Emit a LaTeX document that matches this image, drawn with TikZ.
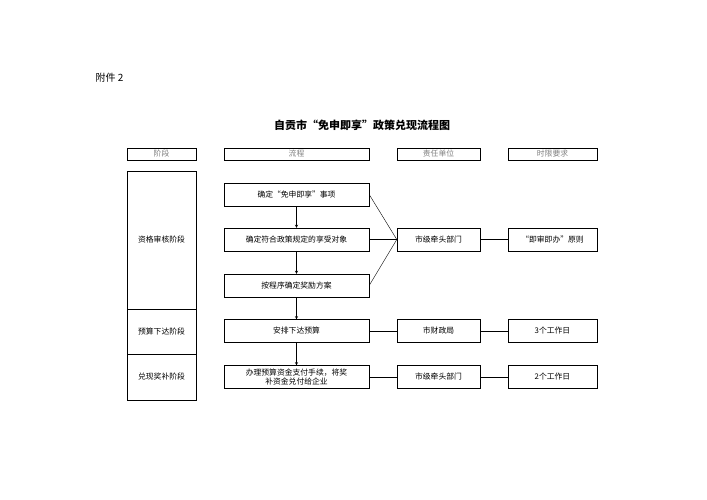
\documentclass[tikz,border=0pt]{standalone}
\usepackage{fontspec}
\setmainfont{Noto Sans CJK SC}
\usetikzlibrary{positioning}
\begin{document}
\begin{tikzpicture}[x=1pt,y=-1pt,font=\fontsize{7.8}{8.5}\selectfont,>=stealth]
    \tikzstyle{cell}=[shape=rectangle,draw,thin,inner sep=1pt,align=center]
    \tikzstyle{head}=[cell,minimum height=12pt,text=gray]
    \tikzstyle{flow}=[cell,minimum width=145pt,minimum height=23pt]
    \tikzstyle{unit}=[cell,minimum width=83pt,minimum height=23pt]
    \tikzstyle{limit}=[cell,minimum width=89pt,minimum height=23pt]
    \tikzstyle{stage}=[cell,minimum width=69pt]
    \useasboundingbox (0,0) rectangle (707,500);

    \node[anchor=west,font=\fontsize{10}{11}\selectfont] (att) at (92,78) {附件 2};
    \node[font=\bfseries\fontsize{11}{13}\selectfont] (title) at (362,125) {自贡市“免申即享”政策兑现流程图};

    \node[head,minimum width=69pt] (h1) at (161.5,154) {阶段};
    \node[head,minimum width=145pt] (h2) at (296.5,154) {流程};
    \node[head,minimum width=83pt] (h3) at (438.5,154) {责任单位};
    \node[head,minimum width=89pt] (h4) at (552.5,154) {时限要求};

    \node[stage,minimum height=138pt] (S1) at (161.5,240) {资格审核阶段};
    \node[stage,minimum height=45pt] (S2) at (161.5,331.5) {预算下达阶段};
    \node[stage,minimum height=46pt] (S3) at (161.5,377) {兑现奖补阶段};

    \node[flow] (F1) at (296.5,194.5) {确定“免申即享”事项};
    \node[flow] (F2) at (296.5,239.5) {确定符合政策规定的享受对象};
    \node[flow] (F3) at (296.5,285.5) {按程序确定奖励方案};
    \node[flow] (F4) at (296.5,331) {安排下达预算};
    \node[flow] (F5) at (296.5,377) {办理预算资金支付手续，将奖\\补资金兑付给企业};

    \node[unit] (U1) at (438.5,239.5) {市级牵头部门};
    \node[unit] (U2) at (438.5,331) {市财政局};
    \node[unit] (U3) at (438.5,377) {市级牵头部门};

    \node[limit] (T1) at (552.5,239.5) {“即审即办”原则};
    \node[limit] (T2) at (552.5,331) {3个工作日};
    \node[limit] (T3) at (552.5,377) {2个工作日};

    \path[->, draw, thin]
    (F1) edge (F2)
    (F2) edge (F3)
    (F3) edge (F4)
    (F4) edge (F5)
    ;

    \draw (F1.east) -- (U1.west);
    \draw (F2.east) -- (U1.west);
    \draw (F3.east) -- (U1.west);
    \draw (F4) -- (U2);
    \draw (F5) -- (U3);
    \draw (U1) -- (T1);
    \draw (U2) -- (T2);
    \draw (U3) -- (T3);
\end{tikzpicture}
\end{document}
